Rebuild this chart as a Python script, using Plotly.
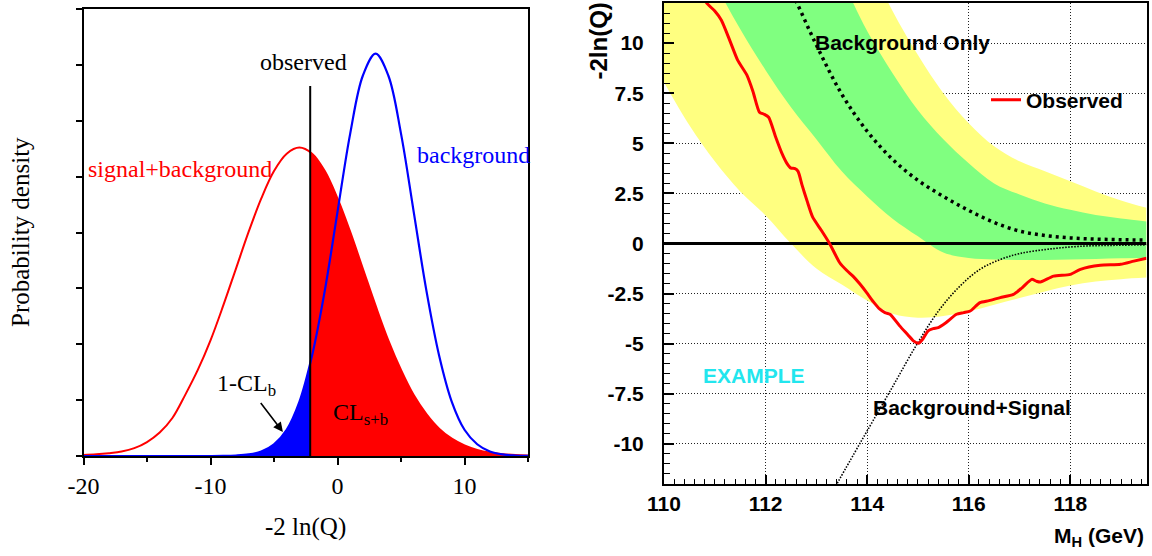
import plotly.graph_objects as go

W, H = 1152, 556

# ---------------- Left panel data ----------------
q_x = list(range(-20, 16))
sb_pdf = [0.02, 0.03, 0.05, 0.08, 0.14, 0.25, 0.42, 0.68, 1.09, 1.54, 2.07, 2.69,
          3.35, 4.01, 4.61, 5.10, 5.41, 5.52, 5.41, 5.10, 4.61, 4.01, 3.35, 2.69,
          2.07, 1.54, 1.09, 0.75, 0.49, 0.31, 0.19, 0.11, 0.061, 0.033, 0.017, 0.0085]
b_pdf = [0, 0, 0, 0, 0, 0, 0, 0, 0, 0, 0, 0.002, 0.009, 0.028, 0.08, 0.21, 0.47,
         0.97, 1.80, 2.96, 4.37, 5.77, 6.81, 7.20, 6.81, 5.77, 4.37, 2.96, 1.80,
         0.97, 0.47, 0.21, 0.08, 0.028, 0.009, 0.002]
obs_q = -2.15
sb_at_obs = 5.44
b_at_obs = 1.62
obs_top = 6.62
arrow_head = (-4.3, 0.43)
left_xticks = [-20, -10, 0, 10]
left_xlabels = ["-20", "-10", "0", "10"]
left_xminor = [-15, -5, 5, 15]
left_yticks = [0, 1, 2, 3, 4, 5, 6, 7, 8]

# ---------------- Right panel data ----------------
band_x = [110.0, 110.5, 111.0, 111.5, 112.0, 112.5, 113.0, 113.5, 114.0, 114.5,
          115.0, 115.5, 116.0, 116.5, 117.0, 117.5, 118.0, 118.5, 119.0, 119.5]
yellow_lo = [8.05, 5.9, 4.1, 2.6, 1.4, 0.0, -1.25, -2.05, -2.85, -3.5,
             -3.7, -3.62, -3.38, -3.05, -2.72, -2.4, -2.1, -1.9, -1.78, -1.7]
green_lo = [17.5, 15.5, 13.0, 10.7, 8.65, 6.8, 5.2, 3.6, 2.35, 1.24,
            0.36, -0.45, -0.72, -0.8, -0.82, -0.82, -0.8, -0.77, -0.74, -0.71]
bkg_median = [22.0, 20.0, 18.2, 16.5, 14.8, 12.6, 9.9, 7.45, 5.6, 4.2,
              3.15, 2.35, 1.65, 1.05, 0.62, 0.4, 0.28, 0.22, 0.19, 0.17]
green_hi = [29.0, 27.0, 25.0, 22.8, 20.6, 18.3, 15.8, 13.2, 10.6, 8.5,
            6.65, 5.2, 4.0, 3.0, 2.45, 2.0, 1.68, 1.42, 1.25, 1.1]
yellow_hi = [30.0, 28.5, 27.0, 25.0, 23.0, 21.0, 19.0, 16.8, 14.2, 11.6,
             9.4, 7.5, 6.0, 4.85, 4.1, 3.6, 3.1, 2.6, 2.15, 1.78]

sb_mh = [113.38, 113.75, 114.0, 114.5, 115.0, 115.43, 115.83, 116.22, 116.62,
         117.01, 117.61, 118.26, 118.9, 119.5]
sb_exp = [-12.1, -10.45, -9.35, -7.15, -4.94, -3.28, -2.12, -1.29, -0.80,
          -0.50, -0.27, -0.13, -0.09, -0.07]

obs_mh = [110.78, 110.84, 111.0, 111.13, 111.3, 111.45, 111.63, 111.75, 111.88, 111.97,
          112.06, 112.2, 112.32, 112.42, 112.5, 112.58, 112.64, 112.72, 112.82, 112.93,
          113.1, 113.26, 113.46, 113.6, 113.72, 113.85, 113.99, 114.12, 114.25, 114.35,
          114.45, 114.64, 114.8, 114.91, 115.01, 115.1, 115.2, 115.3, 115.4, 115.55,
          115.76, 115.9, 116.03, 116.22, 116.4, 116.62, 116.88, 117.05, 117.24, 117.33,
          117.41, 117.67, 118.0, 118.2, 118.59, 118.99, 119.25, 119.5]
obs_val = [12.4, 12.0, 11.6, 11.14, 10.1, 9.15, 8.41, 7.6, 6.55, 6.45,
           6.3, 5.3, 4.51, 4.0, 3.76, 3.74, 3.6, 2.9, 2.1, 1.3,
           0.65, 0.0, -0.96, -1.35, -1.63, -2.0, -2.45, -2.9, -3.28, -3.45,
           -3.53, -4.11, -4.55, -4.86, -4.98, -4.75, -4.36, -4.25, -4.2, -3.95,
           -3.53, -3.45, -3.37, -2.95, -2.85, -2.7, -2.54, -2.21, -1.79, -1.88,
           -1.92, -1.63, -1.54, -1.29, -1.09, -1.04, -0.88, -0.74]
zero_level = 0.0
right_xticks = [110, 112, 114, 116, 118]
right_xlabels = ["110", "112", "114", "116", "118"]
right_xodd = [111, 113, 115, 117, 119]
right_yticks = [-10, -7.5, -5, -2.5, 0, 2.5, 5, 7.5, 10]
right_ylabels = ["-10", "-7.5", "-5", "-2.5", "0", "2.5", "5", "7.5", "10"]


def px(x):
    return x / W


def py(y):
    return 1 - y / H


SERIF = "Liberation Serif"
SANS = "Liberation Sans"

fig = go.Figure()

# ----- left panel -----
bx = [x for x in q_x if x < obs_q] + [obs_q]
by = [v for x, v in zip(q_x, b_pdf) if x < obs_q] + [b_at_obs]
rx = [obs_q] + [x for x in q_x if x > obs_q]
ry = [sb_at_obs] + [v for x, v in zip(q_x, sb_pdf) if x > obs_q]

fig.add_trace(go.Scatter(x=rx, y=ry, mode="lines", fill="tozeroy", fillcolor="#ff0000",
                         line=dict(width=0, color="#ff0000", shape="spline"),
                         xaxis="x", yaxis="y", showlegend=False, hoverinfo="skip"))
fig.add_trace(go.Scatter(x=bx, y=by, mode="lines", fill="tozeroy", fillcolor="#0000ff",
                         line=dict(width=0, color="#0000ff", shape="spline"),
                         xaxis="x", yaxis="y", showlegend=False, hoverinfo="skip"))
fig.add_trace(go.Scatter(x=q_x, y=sb_pdf, mode="lines",
                         line=dict(width=2, color="#ff0000", shape="spline"),
                         xaxis="x", yaxis="y", showlegend=False))
fig.add_trace(go.Scatter(x=q_x, y=b_pdf, mode="lines",
                         line=dict(width=2.2, color="#0000ff", shape="spline"),
                         xaxis="x", yaxis="y", showlegend=False))
fig.add_trace(go.Scatter(x=[obs_q, obs_q], y=[0, obs_top], mode="lines",
                         line=dict(width=2, color="black"),
                         xaxis="x", yaxis="y", showlegend=False))

# ----- right panel -----
fig.add_trace(go.Scatter(x=band_x, y=yellow_lo, mode="lines", line=dict(width=0, shape="spline"),
                         xaxis="x2", yaxis="y2", showlegend=False, hoverinfo="skip"))
fig.add_trace(go.Scatter(x=band_x, y=yellow_hi, mode="lines", fill="tonexty", fillcolor="#ffff80",
                         line=dict(width=0, shape="spline"),
                         xaxis="x2", yaxis="y2", showlegend=False, hoverinfo="skip"))
fig.add_trace(go.Scatter(x=band_x, y=green_lo, mode="lines", line=dict(width=0, shape="spline"),
                         xaxis="x2", yaxis="y2", showlegend=False, hoverinfo="skip"))
fig.add_trace(go.Scatter(x=band_x, y=green_hi, mode="lines", fill="tonexty", fillcolor="#80ff80",
                         line=dict(width=0, shape="spline"),
                         xaxis="x2", yaxis="y2", showlegend=False, hoverinfo="skip"))
fig.add_trace(go.Scatter(x=band_x, y=bkg_median, mode="lines",
                         line=dict(width=3.5, color="black", dash="3px,4px", shape="spline"),
                         xaxis="x2", yaxis="y2", showlegend=False))
fig.add_trace(go.Scatter(x=sb_mh, y=sb_exp, mode="lines",
                         line=dict(width=1.6, color="black", dash="1.5px,1.5px", shape="spline"),
                         xaxis="x2", yaxis="y2", showlegend=False))
fig.add_trace(go.Scatter(x=[band_x[0], band_x[-1]], y=[zero_level, zero_level], mode="lines",
                         line=dict(width=3, color="black"),
                         xaxis="x2", yaxis="y2", showlegend=False))
fig.add_trace(go.Scatter(x=obs_mh, y=obs_val, mode="lines", name="Observed",
                         line=dict(width=3, color="#ff0000", shape="spline", smoothing=0.6),
                         xaxis="x2", yaxis="y2", showlegend=True))

# ----- annotations -----
ann = []


def text(x, y, s, size, color="black", family=SERIF, bold=False, xanchor="center",
         yanchor="middle", angle=0):
    ann.append(dict(x=px(x), y=py(y), xref="paper", yref="paper", text=s, showarrow=False,
                    xanchor=xanchor, yanchor=yanchor, textangle=angle,
                    font=dict(family=family, size=size, color=color,
                              weight="bold" if bold else "normal")))


text(303, 62, "observed", 24)
text(180, 169, "signal+background", 24, color="#ff0000")
text(473, 155, "background", 24, color="#0000ff")
text(331, 414, "CL<sub>s+b</sub>", 24, xanchor="left")
text(20, 232, "Probability density", 25, angle=-90)
text(305, 527, "-2 ln(Q)", 25)
# 1-CL_b label with its arrow pointing at the blue tail
ann.append(dict(x=arrow_head[0], y=arrow_head[1], xref="x", yref="y",
                ax=-36, ay=-47, text="1-CL<sub>b</sub>", showarrow=True,
                arrowhead=2, arrowsize=1.2, arrowwidth=1.6, arrowcolor="black",
                standoff=0, startstandoff=2,
                font=dict(family=SERIF, size=24, color="black")))

text(902, 43, "Background Only", 21, family=SANS, bold=True)
text(972, 407, "Background+Signal", 21, family=SANS, bold=True)
text(754, 375, "EXAMPLE", 21, color="#22e6ee", family=SANS, bold=True)
text(598, 1, "-2ln(Q)", 24, family=SANS, bold=True, angle=-90, yanchor="top")
text(1146, 537, "M<sub>H</sub> (GeV)", 21, family=SANS, bold=True, xanchor="right")

axis_common = dict(showline=True, linecolor="black", mirror=True, zeroline=False,
                   automargin=False)
grid_style = dict(showgrid=True, gridcolor="#222", gridwidth=1, griddash="1px,2px")

fig.update_layout(
    template="none",
    width=W, height=H, autosize=False,
    margin=dict(l=0, r=0, t=0, b=0, pad=0),
    paper_bgcolor="white", plot_bgcolor="white",
    annotations=ann,
    xaxis=dict(domain=[px(83.5), px(528)], range=[-20, 15], tickmode="array",
               tickvals=left_xticks, ticktext=left_xlabels, ticks="outside", ticklen=7,
               tickwidth=1.5, tickcolor="black", linewidth=1.5, showgrid=False,
               tickfont=dict(family=SERIF, size=24, color="black"),
               minor=dict(tickmode="array", tickvals=left_xminor, ticks="outside",
                          ticklen=4, tickwidth=1.5, tickcolor="black", showgrid=False),
               anchor="y", **axis_common),
    yaxis=dict(domain=[py(456), py(9)], range=[0, 8], tickmode="array",
               tickvals=left_yticks, ticks="outside", ticklen=6, tickwidth=1.5,
               tickcolor="black", linewidth=1.5, showgrid=False, showticklabels=False,
               anchor="x", **axis_common),
    xaxis2=dict(domain=[px(664), px(1146.5)], range=[110, 119.5], tickmode="array",
                tickvals=right_xticks, ticktext=right_xlabels, ticks="inside",
                ticklen=9, tickwidth=1.5, tickcolor="black", linewidth=2,
                tickfont=dict(family=SANS, size=21, color="black", weight="bold"),
                minor=dict(dtick=0.2, tick0=110, ticks="inside", ticklen=5, tickwidth=1.2,
                           tickcolor="black", showgrid=False),
                anchor="y2", **grid_style, **axis_common),
    xaxis3=dict(overlaying="x2", anchor="y2", range=[110, 119.5], tickmode="array",
                tickvals=right_xodd, ticks="inside", ticklen=9, tickwidth=1.5,
                tickcolor="black", showticklabels=False, showline=False,
                zeroline=False, automargin=False, side="bottom", **grid_style),
    yaxis2=dict(domain=[py(484), py(3)], range=[-12, 12], tickmode="array",
                tickvals=right_yticks, ticktext=right_ylabels, ticks="inside",
                ticklen=10, tickwidth=1.5, tickcolor="black", linewidth=2,
                ticklabelstandoff=14,
                tickfont=dict(family=SANS, size=21, color="black", weight="bold"),
                minor=dict(dtick=0.5, tick0=0, ticks="inside", ticklen=6, tickwidth=1.2,
                           tickcolor="black", showgrid=False),
                anchor="x2", **grid_style, **axis_common),
    legend=dict(x=px(986), y=py(100), xanchor="left", yanchor="middle",
                bgcolor="rgba(0,0,0,0)", borderwidth=0,
                font=dict(family=SANS, size=21, color="black", weight="bold")),
)

fig.write_html("out.html")
